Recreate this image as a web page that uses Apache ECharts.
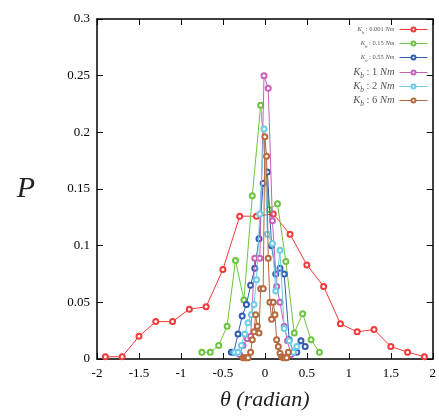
<!DOCTYPE html>
<html><head><meta charset="utf-8">
<script src="https://cdn.jsdelivr.net/npm/echarts@6/dist/echarts.min.js"></script>
<style>html,body{margin:0;padding:0;background:#fff}#c{width:439px;height:417px}</style>
</head><body><div id="c"></div>
<script>
// Tick labels
const xTicks = ["-2","-1.5","-1","-0.5","0","0.5","1","1.5","2"];
const yTicks = ["0","0.05","0.1","0.15","0.2","0.25","0.3"];

// Series names
const names = ["Kb : 0.001 Nm","Kb : 0.15 Nm","Kb : 0.55 Nm","Kb : 1 Nm","Kb : 2 Nm","Kb : 6 Nm"];

// K_b = 0.001 Nm
const k0001_x = [-1.9,-1.7,-1.5,-1.3,-1.1,-0.9,-0.7,-0.5,-0.3,-0.1,0.1,0.3,0.5,0.7,0.9,1.1,1.3,1.5,1.7,1.9];
const k0001_y = [0.002,0.002,0.020,0.033,0.033,0.044,0.046,0.079,0.126,0.126,0.128,0.110,0.083,0.064,0.031,0.024,0.026,0.011,0.006,0.002];
// K_b = 0.15 Nm
const k015_x = [-0.75,-0.65,-0.55,-0.45,-0.35,-0.25,-0.15,-0.05,0.05,0.15,0.25,0.35,0.45,0.55,0.65];
const k015_y = [0.006,0.006,0.012,0.029,0.087,0.052,0.144,0.224,0.132,0.137,0.086,0.023,0.040,0.017,0.006];
// K_b = 0.55 Nm
const k055_x = [-0.40,-0.37,-0.32,-0.27,-0.22,-0.17,-0.12,-0.07,-0.02,0.03,0.08,0.13,0.18,0.23,0.29,0.34,0.38,0.43,0.48];
const k055_y = [0.006,0.006,0.022,0.038,0.048,0.065,0.080,0.106,0.155,0.165,0.100,0.075,0.080,0.075,0.017,0.006,0.006,0.016,0.011];
// K_b = 1 Nm
const k1_x = [-0.30,-0.26,-0.21,-0.17,-0.12,-0.06,-0.01,0.04,0.09,0.14,0.18,0.23,0.27,0.31];
const k1_y = [0.004,0.012,0.018,0.020,0.089,0.089,0.250,0.239,0.122,0.064,0.050,0.029,0.016,0.004];
// K_b = 2 Nm
const k2_x = [-0.36,-0.32,-0.28,-0.24,-0.20,-0.16,-0.13,-0.10,-0.06,-0.01,0.03,0.09,0.13,0.18,0.23,0.29,0.34,0.38];
const k2_y = [0.006,0.006,0.012,0.022,0.032,0.039,0.048,0.070,0.128,0.203,0.110,0.102,0.060,0.096,0.027,0.016,0.006,0.011];
// K_b = 6 Nm
const k6_x = [-0.26,-0.24,-0.22,-0.20,-0.17,-0.15,-0.13,-0.11,-0.09,-0.07,-0.05,-0.02,0.00,0.02,0.04,0.06,0.08,0.10,0.12,0.14,0.16,0.18,0.20,0.22,0.24,0.26,0.28];
const k6_y = [0.001,0.001,0.001,0.001,0.006,0.017,0.024,0.039,0.029,0.023,0.062,0.062,0.196,0.179,0.089,0.050,0.035,0.050,0.039,0.017,0.011,0.005,0.002,0.001,0.001,0.001,0.006];

const colors = ["#f23a3a","#6cc43f","#2f5cb0","#c561b8","#6ccbe6","#b5693f"];
const xsAll = [k0001_x,k015_x,k055_x,k1_x,k2_x,k6_x];
const ysAll = [k0001_y,k015_y,k055_y,k1_y,k2_y,k6_y];

const zip = (a,b)=>a.map((v,i)=>[v,b[i]]);
const serif = "Liberation Serif";

const series = names.map((n,i)=>({
  name:n, type:'line', data: zip(xsAll[i],ysAll[i]),
  symbol:'emptyCircle', symbolSize:5, showSymbol:true,
  lineStyle:{width:1,color:colors[i]},
  itemStyle:{color:colors[i], borderColor:colors[i], borderWidth:1.3},
  animation:false, z:2+i
}));

const legendTops = [26,40,54,67,81,95];
const legendSizes = [6.5,6.5,6.5,10.5,10.5,10.5];
const legends = names.map((n,i)=>({
  data:[n], right:11, top:legendTops[i], orient:'vertical', align:'right',
  itemWidth:28, itemHeight:5, padding:0, itemGap:0,
  lineStyle:{width:1},
  formatter: function(){
    const parts = n.split(' ');
    return '{i|K}{s|b}{n| : '+parts[2]+' }{i|Nm}';
  },
  textStyle:{ color:'#555', fontFamily:serif, fontSize:legendSizes[i],
    rich:{
      i:{fontStyle:'italic',fontFamily:serif,fontSize:legendSizes[i],color:'#555'},
      s:{fontStyle:'italic',fontFamily:serif,fontSize:legendSizes[i]*0.7,color:'#555',verticalAlign:'bottom',padding:[0,0,-2,0]},
      n:{fontFamily:serif,fontSize:legendSizes[i],color:'#555'}
    }
  }
}));

const axisLineStyle = {show:true, onZero:false, lineStyle:{color:'#000',width:1.5}};
const tickStyle = {show:true, inside:true, length:6, lineStyle:{color:'#000',width:1}};

const option = {
  backgroundColor:'#fff',
  animation:false,
  grid:{left:97,right:2,top:19,bottom:58,containLabel:false},
  legend: legends,
  xAxis:[{
    type:'value', min:-2, max:2, interval:0.5, position:'bottom',
    axisLine:axisLineStyle, axisTick:tickStyle, splitLine:{show:false},
    axisLabel:{color:'#000', fontFamily:serif, fontSize:13, margin:8,
      formatter:(v)=>xTicks[Math.round((v+2)/0.5)]},
    name:'θ (radian)', nameLocation:'middle', nameGap:30,
    nameTextStyle:{fontFamily:serif, fontStyle:'italic', fontSize:22, color:'#222'}
  },{
    type:'value', min:-2, max:2, interval:0.5, position:'top',
    axisLine:axisLineStyle, axisTick:tickStyle, axisLabel:{show:false}, splitLine:{show:false}
  }],
  yAxis:[{
    type:'value', min:0, max:0.3, interval:0.05, position:'left',
    axisLine:axisLineStyle, axisTick:tickStyle, splitLine:{show:false},
    axisLabel:{color:'#000', fontFamily:serif, fontSize:13, margin:7,
      formatter:(v)=>yTicks[Math.round(v/0.05)]},
    name:'P', nameLocation:'middle', nameGap:62, nameRotate:0,
    nameTextStyle:{fontFamily:serif, fontStyle:'italic', fontSize:30, color:'#222'}
  },{
    type:'value', min:0, max:0.3, interval:0.05, position:'right',
    axisLine:axisLineStyle, axisTick:tickStyle, axisLabel:{show:false}, splitLine:{show:false}
  }],
  series: series
};
const chart = echarts.init(document.getElementById('c'), null, {renderer:'canvas'});
chart.setOption(option);
</script></body></html>
